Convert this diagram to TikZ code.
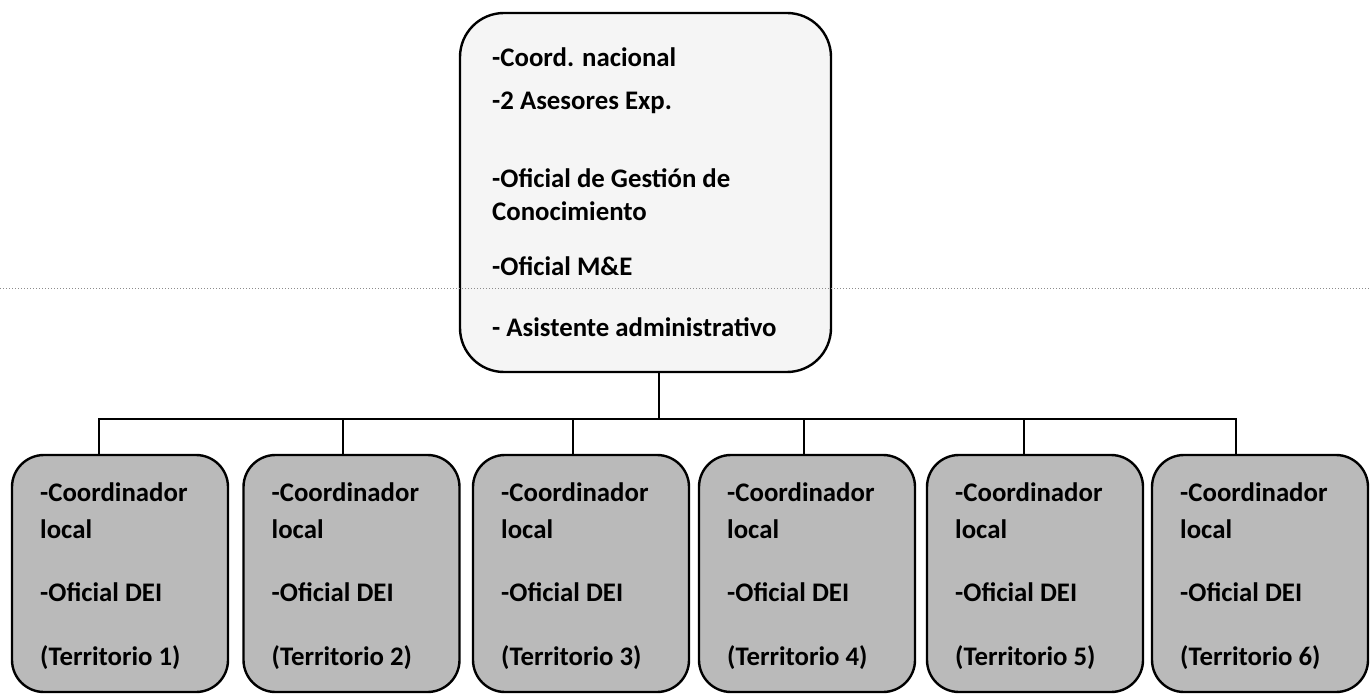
\documentclass[tikz,border=0pt]{standalone}
\usepackage{fontspec}
\setmainfont{Carlito}
\begin{document}
\begin{tikzpicture}[x=1pt,y=-1pt,
  topbox/.style={draw=black,line width=2.4pt,rounded corners=44pt,fill=black!4,
    minimum width=371pt,minimum height=359pt,inner sep=0pt},
  locbox/.style={draw=black,line width=2.4pt,rounded corners=32pt,fill=black!27,
    minimum width=216pt,minimum height=237pt,inner sep=0pt},
  lbl/.style={anchor=base west,inner sep=0pt,font=\fontsize{26.8}{30}\selectfont\bfseries},
  conn/.style={draw=black,line width=2pt},
  scanline/.style={draw=black!45,line width=1pt,dotted}]
\useasboundingbox (0,0) rectangle (1370,700);

% top box
\node[topbox] (top) at (645.5,192.5) {};
\draw[scanline] (0,289) -- (1370,289);
\node[lbl] (t1) at (492,67) {-Coord. nacional};
\node[lbl] (t2) at (492,110) {-2 Asesores Exp.};
\node[lbl] (t3) at (492,188) {-Oficial de Gestión de};
\node[lbl] (t4) at (492,221) {Conocimiento};
\node[lbl] (t5) at (492,276) {-Oficial M\&E};
\node[lbl] (t6) at (492,337) {- Asistente administrativo};

% local boxes
\foreach \i/\cx in {1/120,2/351.5,3/581,4/807,5/1035,6/1260}{
  \node[locbox] (b\i) at (\cx,573.5) {};
  \node[lbl] (b\i a) at (\cx-80,501) {-Coordinador};
  \node[lbl] (b\i b) at (\cx-80,538) {local};
  \node[lbl] (b\i c) at (\cx-80,601) {-Oficial DEI};
  \node[lbl] (b\i d) at (\cx-80,665) {(Territorio \i)};
}

% connectors
\coordinate (j) at (659,419);
\coordinate (barL) at (99,419);
\coordinate (barR) at (1236,419);
\draw[conn] (top.south -| j) -- (j);
\draw[conn] (b1.north -| barL) -- (barL) -- (barR) -- (b6.north -| barR);
\draw[conn] ([xshift=-8.5pt]b2.north) -- ([xshift=-8.5pt]b2.north |- j);
\draw[conn] ([xshift=-8pt]b3.north) -- ([xshift=-8pt]b3.north |- j);
\draw[conn] ([xshift=-3pt]b4.north) -- ([xshift=-3pt]b4.north |- j);
\draw[conn] ([xshift=-11pt]b5.north) -- ([xshift=-11pt]b5.north |- j);
\end{tikzpicture}
\end{document}
